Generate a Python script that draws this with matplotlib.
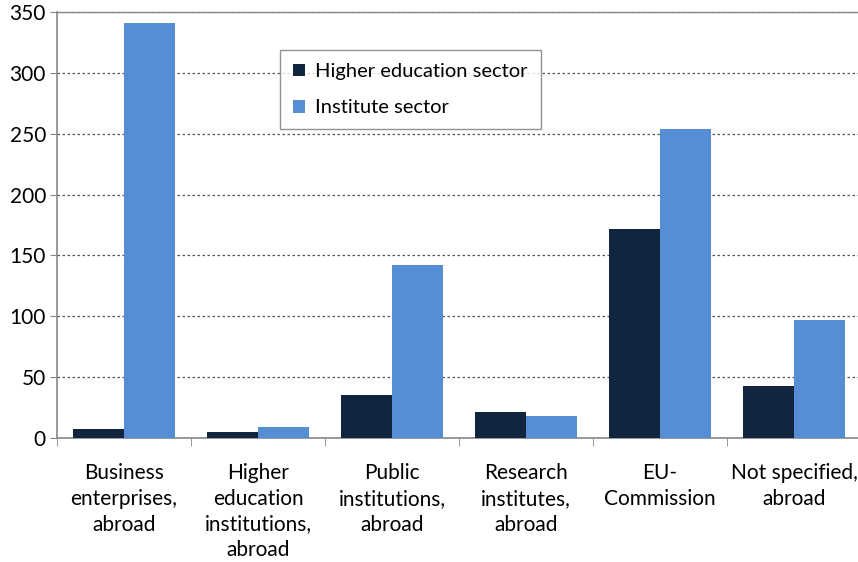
import matplotlib
matplotlib.use("Agg")
import matplotlib.pyplot as plt
import numpy as np

categories = ["Business\nenterprises,\nabroad", "Higher\neducation\ninstitutions,\nabroad",
              "Public\ninstitutions,\nabroad", "Research\ninstitutes,\nabroad",
              "EU-\nCommission", "Not specified,\nabroad"]
higher_education = [7, 5, 35, 21, 172, 43]
institute = [341, 9, 142, 18, 254, 97]
series_names = ["Higher education sector", "Institute sector"]
yticks = [0, 50, 100, 150, 200, 250, 300, 350]

plt.rcParams['font.family'] = ['Lato', 'DejaVu Sans']

fig = plt.figure(figsize=(8.58, 5.62), dpi=100)
ax = fig.add_axes([57/858, 1 - 438/562, 804/858, 426/562])

x = np.arange(len(categories))
w = 0.38
ax.bar(x - w/2, higher_education, w, color='#12253f', label=series_names[0], zorder=3)
ax.bar(x + w/2, institute, w, color='#558ed5', label=series_names[1], zorder=3)

ax.set_xlim(-0.5, len(categories) - 0.5)
ax.set_ylim(0, 350)
ax.set_yticks(yticks)
ax.set_yticklabels([str(t) for t in yticks], fontsize=15)
ax.yaxis.grid(True, linestyle=(0, (2, 2)), color='#555555', linewidth=0.9, zorder=0)
ax.set_xticks(x)
ax.set_xticklabels(categories, fontsize=15, linespacing=1.36)
ax.set_xticks(np.arange(len(categories) + 1) - 0.5, minor=True)
ax.tick_params(axis='x', which='major', length=0, pad=18)
ax.tick_params(axis='x', which='minor', length=6, color='#888888', direction='out')
ax.tick_params(axis='y', length=5, color='#888888', direction='out', pad=3)
for s in ['left', 'bottom']:
    ax.spines[s].set_color('#888888')
    ax.spines[s].set_linewidth(1.2)
ax.spines['right'].set_visible(False)
ax.spines['top'].set_color('#888888')
ax.spines['top'].set_linewidth(1.0)

leg = ax.legend(loc='upper left', bbox_to_anchor=((280-57)/804, (438-50)/426),
                fontsize=14.5, frameon=True, fancybox=False, handlelength=0.6,
                handleheight=0.6, handletextpad=0.5, labelspacing=0.95,
                borderpad=0.65, borderaxespad=0)
leg.get_frame().set_edgecolor('#777777')
leg.get_frame().set_linewidth(1.0)

fig.savefig("out.png", dpi=100)
